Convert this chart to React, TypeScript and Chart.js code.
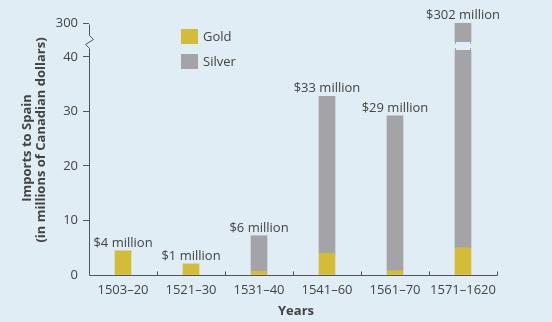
import React, { useEffect, useRef } from 'react';
import { Chart, registerables, LinearScale } from 'chart.js';

Chart.register(...registerables);

const CATEGORIES = ['1503–20', '1521–30', '1531–40', '1541–60', '1561–70', '1571–1620'];
const GOLD = [4.4, 2.0, 0.7, 4.0, 0.8, 5.0];
const SILVER = [0, 0, 6.5, 28.8, 28.4, 297];
const TOTAL_LABELS = ['$4 million', '$1 million', '$6 million', '$33 million', '$29 million', '$302 million'];
const Y_TICKS = [0, 10, 20, 30, 40, 300];
const BREAK_AT = 40;
const Y_MAX = 320;
const LEGEND_ITEMS = ['Gold', 'Silver'];
const Y_TITLE = ['Imports to Spain', '(in millions of Canadian dollars)'];
const X_TITLE = 'Years';

const FONT = '"Open Sans", sans-serif';
const TEXT = '#434343';
const AXIS = '#555555';
const BG = '#e1edf5';
const GOLD_C = '#d4bc3b';
const SILVER_C = '#a4a4a8';
const LOWER_FRAC = 0.8583;

class BrokenLinearScale extends LinearScale {
  static id = 'brokenLinear';
  static defaults = LinearScale.defaults;
  getPixelForValue(value: number) {
    const v = Math.max(0, value);
    const f =
      v <= BREAK_AT
        ? (v / BREAK_AT) * LOWER_FRAC
        : LOWER_FRAC + ((v - BREAK_AT) / ((this as any).max - BREAK_AT)) * (1 - LOWER_FRAC);
    return this.getPixelForDecimal(f);
  }
  getValueForPixel(pixel: number) {
    const f = this.getDecimalForPixel(pixel);
    return f <= LOWER_FRAC
      ? (f / LOWER_FRAC) * BREAK_AT
      : BREAK_AT + ((f - LOWER_FRAC) / (1 - LOWER_FRAC)) * ((this as any).max - BREAK_AT);
  }
}
Chart.register(BrokenLinearScale as any);

const decor = {
  id: 'decor',
  afterDatasetsDraw(chart: any) {
    const ctx = chart.ctx;
    const area = chart.chartArea;
    const y = chart.scales.y;
    const goldMeta = chart.getDatasetMeta(0);
    const silverMeta = chart.getDatasetMeta(1);
    const y0 = Math.round(y.getPixelForValue(0)) + 0.5;
    const y40 = y.getPixelForValue(BREAK_AT);
    const axX = Math.round(area.left) + 0.5;

    ctx.save();
    // break in bars that exceed the break value
    CATEGORIES.forEach((_, i) => {
      const total = GOLD[i] + SILVER[i];
      if (total <= BREAK_AT) return;
      const el = silverMeta.data[i];
      const half = el.width / 2;
      const top = Math.round(y40 - 15);
      const bot = Math.round(y40 - 7);
      ctx.fillStyle = BG;
      ctx.fillRect(el.x - half - 1, top, el.width + 2, bot - top);
      ctx.strokeStyle = SILVER_C;
      ctx.lineWidth = 1;
      ctx.beginPath();
      [el.x - half + 0.5, el.x + half - 0.5].forEach((ex) => {
        ctx.moveTo(ex, top);
        ctx.lineTo(ex, top + 2);
        ctx.moveTo(ex, bot - 2);
        ctx.lineTo(ex, bot);
      });
      ctx.stroke();
    });

    // value labels
    ctx.fillStyle = TEXT;
    ctx.font = `13px ${FONT}`;
    ctx.textAlign = 'center';
    ctx.textBaseline = 'alphabetic';
    CATEGORIES.forEach((_, i) => {
      const el = silverMeta.data[i];
      const g = goldMeta.data[i];
      const topY = Math.min(el.y, g.y);
      ctx.fillText(TOTAL_LABELS[i], el.x, topY - 4);
    });

    // axes
    ctx.strokeStyle = AXIS;
    ctx.lineWidth = 1;
    ctx.beginPath();
    ctx.moveTo(axX, y0);
    ctx.lineTo(Math.round(area.right) + 0.5, y0);
    const n = CATEGORIES.length;
    const w = (area.right - area.left) / n;
    for (let i = 1; i <= n; i++) {
      const tx = Math.round(area.left + i * w) + 0.5;
      ctx.moveTo(tx, y0);
      ctx.lineTo(tx, y0 - 4);
    }
    const yTop = Math.round(y.getPixelForValue(Y_TICKS[Y_TICKS.length - 1])) + 0.5;
    ctx.moveTo(axX, y0);
    ctx.lineTo(axX, y40 - 8.5);
    ctx.lineTo(axX - 4, y40 - 12.5);
    ctx.lineTo(axX + 4, y40 - 17.5);
    ctx.lineTo(axX, y40 - 21.5);
    ctx.lineTo(axX, yTop);
    ctx.stroke();

    // legend
    const lx = area.left + 92;
    const ly = area.top + 8;
    const colors = [GOLD_C, SILVER_C];
    LEGEND_ITEMS.forEach((name, i) => {
      const sy = ly + i * 24.5;
      ctx.fillStyle = colors[i];
      ctx.fillRect(lx, Math.round(sy), 17, 15);
      ctx.fillStyle = TEXT;
      ctx.textAlign = 'left';
      ctx.textBaseline = 'middle';
      ctx.font = `13px ${FONT}`;
      ctx.fillText(name, lx + 22, Math.round(sy) + 8);
    });

    // titles
    ctx.fillStyle = TEXT;
    ctx.font = `bold 13px ${FONT}`;
    ctx.textAlign = 'center';
    ctx.textBaseline = 'middle';
    ctx.fillText(X_TITLE, (area.left + area.right) / 2 + 3, 311);
    const centers = [[27, 148], [41, 140]];
    Y_TITLE.forEach((line, i) => {
      ctx.save();
      ctx.translate(centers[i][0], centers[i][1]);
      ctx.rotate(-Math.PI / 2);
      ctx.fillText(line, 0, 0);
      ctx.restore();
    });
    ctx.restore();
  },
};

export default function App() {
  const ref = useRef<HTMLCanvasElement | null>(null);
  useEffect(() => {
    document.body.style.margin = '0';
    const canvas = ref.current!;
    const chart = new Chart(canvas, {
      type: 'bar',
      data: {
        labels: CATEGORIES,
        datasets: [
          { label: 'Gold', data: GOLD, backgroundColor: GOLD_C, stack: 's', barThickness: 16 },
          { label: 'Silver', data: SILVER, backgroundColor: SILVER_C, stack: 's', barThickness: 16 },
        ],
      },
      options: {
        responsive: false,
        animation: false,
        devicePixelRatio: 1,
        layout: { padding: { left: 0, right: 55, top: 21, bottom: 0 } },
        plugins: { legend: { display: false }, tooltip: { enabled: false } },
        scales: {
          x: {
            stacked: true,
            offset: true,
            grid: { display: false, drawTicks: false },
            border: { display: false },
            ticks: { color: TEXT, font: { family: FONT, size: 13 }, padding: 7, maxRotation: 0, autoSkip: false },
            afterFit: (s: any) => {
              s.height = 47;
            },
          },
          y: {
            type: 'brokenLinear',
            stacked: true,
            min: 0,
            max: Y_MAX,
            afterBuildTicks: (s: any) => {
              s.ticks = Y_TICKS.map((v) => ({ value: v }));
            },
            grid: {
              drawOnChartArea: false,
              drawTicks: true,
              tickLength: 6,
              color: (c: any) => (c.tick && c.tick.value === 0 ? 'rgba(0,0,0,0)' : AXIS),
            },
            border: { display: false },
            ticks: { color: TEXT, font: { family: FONT, size: 13 }, padding: 5 },
            afterFit: (s: any) => {
              s.width = 89;
            },
          },
        } as any,
      },
      plugins: [decor],
    } as any);
    return () => chart.destroy();
  }, []);
  return (
    <div style={{ width: 552, height: 322, background: BG }}>
      <canvas ref={ref} width={552} height={322} style={{ display: 'block' }} />
    </div>
  );
}
